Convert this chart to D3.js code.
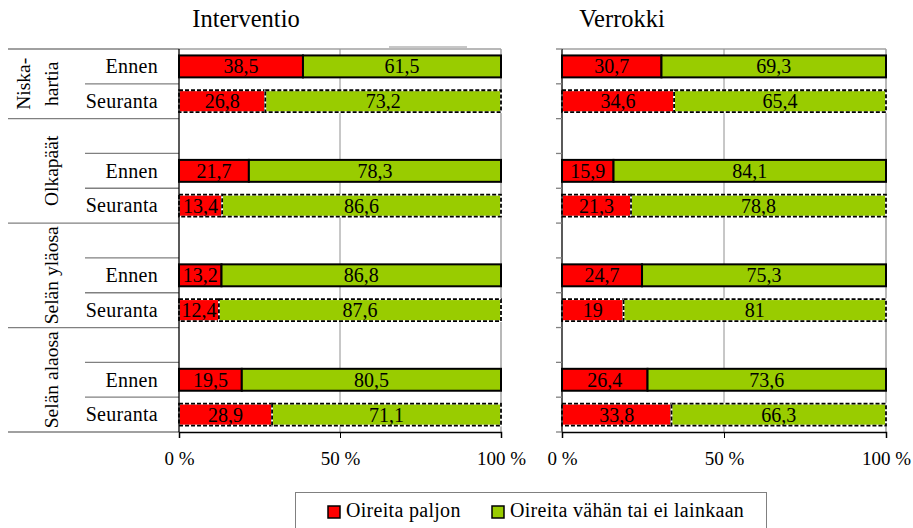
<!DOCTYPE html>
<html><head><meta charset="utf-8">
<script src="https://cdn.jsdelivr.net/npm/d3@7"></script>
<style>
body{margin:0;background:#fff;}
svg{display:block;font-family:"Liberation Serif","Times New Roman",serif;}
</style></head>
<body><svg id="c" width="913" height="528"></svg>
<script>
const groups = ["Niska-hartia", "Olkapäät", "Selän yläosa", "Selän alaosa"];
const groupLines = [["Niska-", "hartia"], ["Olkapäät"], ["Selän yläosa"], ["Selän alaosa"]];
const timepoints = ["Ennen", "Seuranta"];
const interventioPaljon = [38.5, 26.8, 21.7, 13.4, 13.2, 12.4, 19.5, 28.9];
const interventioVahan  = [61.5, 73.2, 78.3, 86.6, 86.8, 87.6, 80.5, 71.1];
const verrokkiPaljon = [30.7, 34.6, 15.9, 21.3, 24.7, 19, 26.4, 33.8];
const verrokkiVahan  = [69.3, 65.4, 84.1, 78.8, 75.3, 81, 73.6, 66.3];
const panelTitles = ["Interventio", "Verrokki"];
const seriesNames = ["Oireita paljon", "Oireita vähän tai ei lainkaan"];
const xTicks = [0, 50, 100];
const xTickLabels = ["0 %", "50 %", "100 %"];

const colors = ["#ff0000", "#99cc00"];
const svg = d3.select("#c");
const plotTop = 49, plotBottom = 432;

const slots = [];
groups.forEach((g, gi) => {
  if (gi > 0) slots.push({key: gi + "-blank", group: gi, tp: null});
  timepoints.forEach(t => slots.push({key: gi + "-" + t, group: gi, tp: t}));
});
const y = d3.scaleBand().domain(slots.map(s => s.key)).range([plotTop, plotBottom])
  .paddingInner(0.37).paddingOuter(0.185);
const step = y.step();
const slotTop = k => y(k) - y.paddingInner() * step / 2;

const fmt = v => String(v).replace(".", ",");

const panels = [
  {x0: 179, x1: 501, paljon: interventioPaljon, vahan: interventioVahan, title: panelTitles[0], tx: 246, table: true},
  {x0: 562, x1: 886, paljon: verrokkiPaljon, vahan: verrokkiVahan, title: panelTitles[1], tx: 622, table: false}
];

const tbl = svg.append("g");
const groupBounds = groups.map((g, gi) => {
  const ks = slots.filter(s => s.group === gi);
  const a = slotTop(ks[0].key), b = slotTop(ks[ks.length - 1].key) + step;
  return [a, b];
});
const fullLines = [plotTop].concat(groupBounds.map(d => d[1]));
fullLines.forEach(v => tbl.append("line").attr("x1", 8).attr("x2", 179).attr("y1", v).attr("y2", v)
  .attr("stroke", "#808080").attr("stroke-width", 1.3));
slots.forEach((s, i) => {
  if (i > 0 && slots[i - 1].group === s.group) {
    const v = slotTop(s.key);
    tbl.append("line").attr("x1", 85).attr("x2", 179).attr("y1", v).attr("y2", v)
      .attr("stroke", "#808080").attr("stroke-width", 1.3);
  }
  if (s.tp) {
    tbl.append("text").attr("x", 158).attr("y", y(s.key) + y.bandwidth() / 2).attr("dy", "0.34em")
      .attr("text-anchor", "end").attr("font-size", 20).attr("letter-spacing", 0.3).attr("fill", "#000").text(s.tp);
  }
});
groupLines.forEach((lines, gi) => {
  const cy = (groupBounds[gi][0] + groupBounds[gi][1]) / 2;
  const xs = lines.length === 2 ? [23, 51] : [51];
  lines.forEach((ln, li) => {
    tbl.append("text").attr("transform", `translate(${xs[li]},${cy}) rotate(-90)`)
      .attr("text-anchor", "middle").attr("dy", "0.34em").attr("font-size", 19.5).text(ln);
  });
});

panels.forEach(p => {
  const x = d3.scaleLinear().domain([0, 100]).range([p.x0, p.x1]);
  const g = svg.append("g");
  g.append("text").attr("x", p.tx).attr("y", 27).attr("text-anchor", "middle")
    .attr("font-size", 24.5).text(p.title);
  g.append("line").attr("x1", x(0)).attr("x2", x(100)).attr("y1", plotTop).attr("y2", plotTop).attr("stroke", "#a0a0a0").attr("stroke-width", 1.5);
  g.append("line").attr("x1", x(100)).attr("x2", x(100)).attr("y1", plotTop).attr("y2", plotBottom).attr("stroke", "#a0a0a0").attr("stroke-width", 1.5);
  g.append("line").attr("x1", x(50)).attr("x2", x(50)).attr("y1", plotTop).attr("y2", plotBottom).attr("stroke", "#909090").attr("stroke-width", 1);
  const rows = slots.filter(s => s.tp);
  rows.forEach((s, i) => {
    const r = p.paljon[i], gr = p.vahan[i];
    const segs = [[0, r, colors[0]], [r, Math.min(100, r + gr), colors[1]]];
    const vals = [r, gr];
    const dashed = s.tp === "Seuranta";
    segs.forEach((sg, si) => {
      const rx = x(sg[0]), rw = x(sg[1]) - x(sg[0]);
      g.append("rect").attr("x", rx).attr("y", y(s.key)).attr("width", rw).attr("height", y.bandwidth())
        .attr("fill", sg[2]).attr("stroke", dashed ? "#ffffff" : "none").attr("stroke-width", 1.8);
      g.append("rect").attr("x", rx).attr("y", y(s.key)).attr("width", rw).attr("height", y.bandwidth())
        .attr("fill", "none").attr("stroke", "#000").attr("stroke-width", dashed ? 1.8 : 2)
        .attr("stroke-dasharray", dashed ? "4,2" : null);
      g.append("text").attr("x", rx + rw / 2).attr("y", y(s.key) + y.bandwidth() / 2).attr("dy", "0.35em")
        .attr("text-anchor", "middle").attr("font-size", 20).text(fmt(vals[si]));
    });
  });
  const ya = g.append("g");
  ya.append("line").attr("x1", x(0)).attr("x2", x(0)).attr("y1", plotTop).attr("y2", plotBottom).attr("stroke", "#000").attr("stroke-width", 1.3);
  if (!p.table) {
    const bnds = [plotTop].concat(slots.map(s => slotTop(s.key) + step));
    bnds.forEach(v => ya.append("line").attr("x1", x(0) - 6).attr("x2", x(0)).attr("y1", v).attr("y2", v)
      .attr("stroke", "#808080").attr("stroke-width", 1.3));
  }
  const xa = g.append("g").attr("transform", `translate(0,${plotBottom})`)
    .call(d3.axisBottom(x).tickValues(xTicks).tickFormat((d, i) => xTickLabels[i]).tickSize(6).tickPadding(14));
  xa.select(".domain").attr("stroke", "#000").attr("stroke-width", 1.5);
  xa.selectAll(".tick line").attr("stroke", "#000").attr("stroke-width", 1);
  xa.selectAll(".tick text").attr("font-size", 19).attr("font-family", "Liberation Serif, serif").attr("fill", "#000");
});

svg.append("line").attr("x1", 389).attr("x2", 467).attr("y1", 47).attr("y2", 47).attr("stroke", "#909090").attr("stroke-width", 1.2);

const lg = svg.append("g");
lg.append("rect").attr("x", 295.5).attr("y", 492.5).attr("width", 471).attr("height", 50)
  .attr("fill", "#fff").attr("stroke", "#808080").attr("stroke-width", 1);
const legX = [328, 492], legTX = [346, 510];
seriesNames.forEach((n, i) => {
  lg.append("rect").attr("x", legX[i]).attr("y", 506).attr("width", 12).attr("height", 12)
    .attr("fill", colors[i]).attr("stroke", "#000").attr("stroke-width", 1.5);
  lg.append("text").attr("x", legTX[i]).attr("y", 517).attr("font-size", 20).attr("letter-spacing", 0.3).text(n);
});
</script></body></html>
